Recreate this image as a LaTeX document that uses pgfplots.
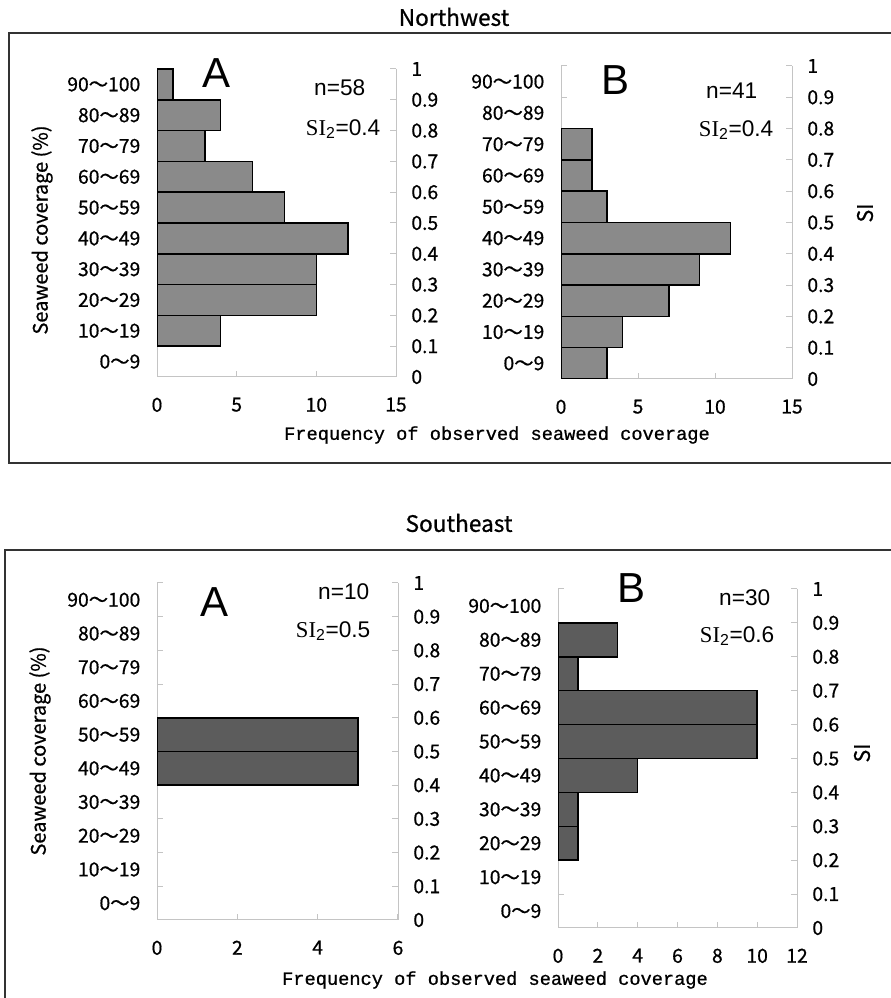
\documentclass[border=0pt]{standalone}
\usepackage{fontspec}
\setmainfont{Liberation Sans}
\newfontfamily\goth[FakeBold=0.7]{Noto Sans CJK JP}
\newfontfamily\mono[FakeBold=0.8]{Liberation Mono}
\newfontfamily\tms{Liberation Serif}
\usepackage{pgfplots}
\pgfplotsset{compat=1.18}

\definecolor{barNW}{HTML}{8A8A8A}
\definecolor{barSE}{HTML}{5C5C5C}
\definecolor{axgray}{HTML}{C4C4C4}

\newcommand{\fs}[1]{\fontsize{#1}{#1}\selectfont}

\pgfplotsset{
  histo/.style={
    scale only axis, xbar, bar width=1, bar shift=0pt,
    ymin=-0.5, ymax=9.5, xmin=0,
    axis x line*=bottom, axis y line*=left,
    axis line style={axgray, line width=0.75pt, -},
    ytick={0,...,9},
    yticklabels={0～9,10～19,20～29,30～39,40～49,50～59,60～69,70～79,80～89,90～100},
    major y tick style={draw=none},
    minor ytick={-0.5,0.5,...,9.5},
    tick align=inside,
    major tick length=4.5pt, minor tick length=4.5pt,
    every tick/.style={axgray, line width=0.75pt},
    /pgf/number format/assume math mode=true,
    xticklabel style={font=\goth\fs{14.5}, text=black, yshift=-12pt},
    yticklabel style={font=\goth\fs{14.5}, text=black, xshift=-9pt},
  },
  si/.style={
    scale only axis, ymin=0, ymax=1, xmin=0, xmax=1,
    axis x line=none, axis y line*=right,
    axis line style={axgray, line width=0.75pt, -},
    ytick={0,0.1,0.2,0.3,0.4,0.5,0.6,0.7,0.8,0.9,1},
    yticklabels={0,0.1,0.2,0.3,0.4,0.5,0.6,0.7,0.8,0.9,1},
    tick align=inside, major tick length=4.5pt,
    every tick/.style={axgray, line width=0.75pt},
    yticklabel style={font=\goth\fs{14.5}, text=black, xshift=8pt},
  },
  nwbar/.style={draw=black, fill=barNW, line width=1.1pt},
  sebar/.style={draw=black, fill=barSE, line width=1.1pt},
}

\begin{document}
\begin{tikzpicture}[x=0.75pt, y=0.75pt]
\useasboundingbox (0,0) rectangle (890,998);

% frames
\draw[line width=1.5pt, black!80] (9,965) rectangle (900,535);
\draw[line width=1.5pt, black!80] (5,448) rectangle (900,-10);

% ---------------- Northwest A
\begin{axis}[histo, at={(117.75pt,465.75pt)}, anchor=south west,
  width=179.25pt, height=231pt, xmax=15,
  xtick={0,5,10,15}]
  % counts per coverage class (zero classes left out)
  \addplot[nwbar] coordinates {
    (4,1) (10,2) (10,3) (12,4) (8,5) (6,6) (3,7) (4,8) (1,9)
  };
\end{axis}
\begin{axis}[si, at={(117.75pt,465.75pt)}, anchor=south west,
  width=179.25pt, height=231pt]
\end{axis}

% ---------------- Northwest B
\begin{axis}[histo, at={(420.75pt,464.25pt)}, anchor=south west,
  width=173.25pt, height=234.75pt, xmax=15,
  xtick={0,5,10,15}]
  \addplot[nwbar] coordinates {
    (3,0) (4,1) (7,2) (9,3) (11,4) (3,5) (2,6) (2,7)
  };
\end{axis}
\begin{axis}[si, at={(420.75pt,464.25pt)}, anchor=south west,
  width=173.25pt, height=234.75pt]
\end{axis}

% ---------------- Southeast A
\begin{axis}[histo, at={(117.75pt,58.5pt)}, anchor=south west,
  width=180.75pt, height=252.75pt, xmax=6,
  xtick={0,2,4,6}]
  \addplot[sebar] coordinates {
    (5,4) (5,5)
  };
\end{axis}
\begin{axis}[si, at={(117.75pt,58.5pt)}, anchor=south west,
  width=180.75pt, height=252.75pt]
\end{axis}

% ---------------- Southeast B
\begin{axis}[histo, at={(418.5pt,52.5pt)}, anchor=south west,
  width=179.25pt, height=254.25pt, xmax=12,
  xtick={0,2,4,6,8,10,12}]
  \addplot[sebar] coordinates {
    (1,2) (1,3) (4,4) (10,5) (10,6) (1,7) (3,8)
  };
\end{axis}
\begin{axis}[si, at={(418.5pt,52.5pt)}, anchor=south west,
  width=179.25pt, height=254.25pt]
\end{axis}

% titles and labels
\node[font=\goth\fs{17}] at (454,981) {Northwest};
\node[font=\goth\fs{17}] at (459,475) {Southeast};
\node[font=\mono\fs{14}] at (497,563) {Frequency of observed seaweed coverage};
\node[font=\mono\fs{14}] at (495,18) {Frequency of observed seaweed coverage};
\node[font=\goth\fs{15}, rotate=90] at (42,768) {Seaweed coverage (\%)};
\node[font=\goth\fs{15}, rotate=90] at (40,247) {Seaweed coverage (\%)};
\node[font=\goth\fs{16}, rotate=90] at (865,785) {SI};
\node[font=\goth\fs{16}, rotate=90] at (862,245) {SI};

% panel letters
\node[font=\fs{31.5}] at (217,925) {A};
\node[font=\fs{31.5}] at (615,918) {B};
\node[font=\fs{31.5}] at (215,396) {A};
\node[font=\fs{31.5}] at (631,410) {B};

% sample sizes and SI2
\node[font=\fs{17}, anchor=east] at (370,910) {n=58};
\node[font=\fs{17}, anchor=east] at (385,869) {{\tms SI}$_{\mathrm{2}}$=0.4};
\node[font=\fs{17}, anchor=east] at (762,907) {n=41};
\node[font=\fs{17}, anchor=east] at (778,868) {{\tms SI}$_{\mathrm{2}}$=0.4};
\node[font=\fs{17}, anchor=east] at (374,406) {n=10};
\node[font=\fs{17}, anchor=east] at (375,367) {{\tms SI}$_{\mathrm{2}}$=0.5};
\node[font=\fs{17}, anchor=east] at (775,400) {n=30};
\node[font=\fs{17}, anchor=east] at (779,362) {{\tms SI}$_{\mathrm{2}}$=0.6};
\end{tikzpicture}
\end{document}
